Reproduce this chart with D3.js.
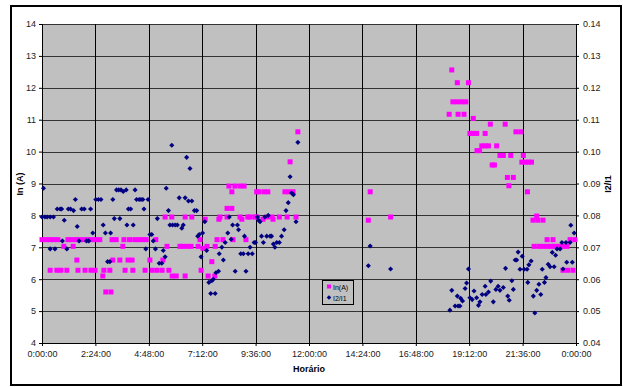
<!DOCTYPE html>
<html>
<head>
<meta charset="utf-8">
<script src="https://cdn.jsdelivr.net/npm/d3@7"></script>
<style>
  body { margin: 0; background: #fff; }
  svg { display: block; font-family: "Liberation Sans", Arial, sans-serif; }
</style>
</head>
<body>
<svg id="chart" width="623" height="387"></svg>
<script>
// minutos desde 0:00
const inTimes = [0,11,22,22,32,40,43,51,59,67,70,81,84,92,94,97,102,113,116,124,132,135,143,146,156,164,167,172,183,186,189,191,200,210,218,221,224,232,236,243,245,250,260,270,278,281,291,297,307,310,324,326,332,337,342,350,351,362,372,380,386,386,391,402,404,421,426,429,434,440,445,448,458,466,467,472,477,480,488,499,499,504,512,512,515,520,534,534,539,545,550,555,561,574,579,580,585,596,599,607,609,620,623,640,655,661,666,669,677,685,690,
  880,885,940,
  1098,1105,1108,1120,1120,1122,1132,1138,1143,1150,1154,1163,1163,1172,1173,1180,1186,1195,1195,1204,1209,1214,1220,1226,1235,1244,1249,1255,1259,1264,1271,1278,1291,1294,1298,1303,1309,1312,1320,1324,1327,1334,1337,1340,1351,1351,1362,1362,1373,1378,1384,1395,1405,1405,1416,1418,1424,1432,1437];
const inValues = [7.24,7.24,7.24,6.28,7.24,6.28,7.24,6.28,7.03,6.28,7.24,7.24,7.03,7.24,6.6,6.28,7.24,7.24,6.28,7.24,6.28,7.24,6.28,7.24,7.24,6.1,6.28,5.6,6.28,5.6,7.24,6.6,7.24,6.6,7.03,7.24,6.28,6.6,7.24,6.6,6.28,7.24,7.24,7.24,6.28,7.24,6.6,6.28,7.24,6.28,6.28,6.6,7.95,7.03,6.28,7.95,6.1,6.1,7.03,7.03,6.1,7.95,7.03,7.03,7.95,7.03,7.24,6.28,6.97,7.88,7.03,6.1,6.55,6.1,7.03,7.24,7.88,7.95,7.24,7.95,8.22,8.92,8.22,8.74,7.24,8.92,8.92,7.95,7.88,8.92,7.24,7.95,7.95,7.95,8.74,7.95,8.74,7.88,8.74,7.95,8.74,7.95,7.88,7.95,8.74,7.95,8.74,9.68,8.74,7.95,10.62,
  7.85,8.74,7.95,
  11.17,12.56,11.56,11.56,12.16,11.17,11.56,11.17,11.56,12.16,10.57,11.04,10.57,10.57,10.03,10.03,10.18,10.18,10.57,10.18,10.86,9.58,9.58,10.18,9.88,9.88,10.86,9.19,8.93,9.88,9.19,10.62,10.62,9.67,9.88,9.67,8.74,9.67,9.67,7.85,7.03,7.98,7.85,7.03,7.85,7.03,7.24,7.03,7.03,7.24,7.03,7.03,7.03,6.28,7.03,6.28,7.24,6.28,7.24];

const ratioTimes = [0,4,8,14,22,22,31,35,41,49,53,55,60,67,71,77,85,90,95,100,107,114,120,126,131,137,145,152,159,165,171,177,183,185,191,195,201,207,210,213,219,227,229,233,239,246,251,255,262,267,272,275,280,286,291,296,300,306,311,316,323,327,332,335,341,345,350,352,359,365,370,377,381,386,390,395,399,404,411,417,420,424,429,433,439,444,450,455,458,462,467,469,476,478,485,489,494,501,505,510,514,521,527,530,536,543,546,550,556,561,567,572,576,581,584,588,592,597,601,606,610,615,619,624,628,633,640,646,653,658,664,669,673,678,685,690,
  880,885,940,
  1100,1105,1114,1120,1122,1127,1129,1134,1141,1145,1150,1154,1160,1165,1172,1177,1181,1187,1195,1197,1204,1210,1217,1224,1230,1235,1244,1250,1256,1260,1267,1271,1276,1280,1284,1289,1295,1300,1308,1310,1313,1319,1325,1329,1334,1340,1345,1349,1355,1359,1365,1370,1376,1381,1385,1389,1397,1402,1405,1413,1415,1424,1426,1430,1435];
const ratioValues = [0.0795,0.0885,0.0795,0.0795,0.0795,0.0695,0.0795,0.0695,0.082,0.082,0.082,0.072,0.0785,0.0695,0.082,0.082,0.0815,0.085,0.0765,0.072,0.082,0.082,0.072,0.072,0.082,0.0745,0.085,0.085,0.085,0.077,0.0745,0.0655,0.0655,0.0745,0.085,0.079,0.088,0.088,0.079,0.088,0.0875,0.088,0.077,0.082,0.082,0.077,0.088,0.085,0.085,0.085,0.085,0.082,0.0695,0.085,0.074,0.074,0.072,0.0695,0.079,0.065,0.065,0.069,0.067,0.0885,0.0815,0.077,0.102,0.077,0.077,0.077,0.0855,0.076,0.077,0.0855,0.0982,0.0845,0.0947,0.0845,0.0815,0.0815,0.0735,0.074,0.067,0.0745,0.078,0.069,0.059,0.0555,0.0595,0.06,0.0555,0.062,0.0625,0.068,0.07,0.066,0.0715,0.0745,0.0795,0.0725,0.077,0.0625,0.077,0.0755,0.068,0.068,0.0735,0.0625,0.068,0.07,0.068,0.0715,0.0715,0.0795,0.0785,0.078,0.0735,0.0715,0.0795,0.0735,0.08,0.0735,0.0735,0.071,0.07,0.0715,0.0715,0.0735,0.0755,0.0815,0.084,0.0921,0.087,0.0865,0.078,0.1029,
  0.0642,0.0704,0.0632,
  0.0503,0.0565,0.0516,0.0547,0.0516,0.0516,0.054,0.0532,0.0571,0.0588,0.0632,0.0542,0.0536,0.0563,0.0542,0.0518,0.0529,0.0552,0.0578,0.0552,0.056,0.0594,0.0529,0.0568,0.0578,0.0565,0.0574,0.0634,0.0547,0.0534,0.0595,0.0568,0.066,0.066,0.0685,0.0631,0.0672,0.0631,0.0631,0.059,0.0645,0.0657,0.0547,0.0494,0.0565,0.0584,0.0552,0.0631,0.059,0.0605,0.0647,0.0639,0.0684,0.0639,0.0675,0.0695,0.0695,0.0715,0.0632,0.0715,0.0653,0.0715,0.0769,0.0653,0.0745];

const xTicks = [0,144,288,432,576,720,864,1008,1152,1296,1440];
const xTickLabels = ["0:00:00","2:24:00","4:48:00","7:12:00","9:36:00","12:00:00","14:24:00","16:48:00","19:12:00","21:36:00","0:00:00"];
const leftTicks = [4,5,6,7,8,9,10,11,12,13,14];
const rightTicks = [0.04,0.05,0.06,0.07,0.08,0.09,0.10,0.11,0.12,0.13,0.14];

const svg = d3.select("#chart");
const pLeft = 42, pRight = 576, pTop = 24, pBottom = 343;

// moldura externa
svg.append("rect")
  .attr("x", 11).attr("y", 6).attr("width", 610).attr("height", 379)
  .attr("fill", "#fff").attr("stroke", "#000").attr("stroke-width", 2);

const x = d3.scaleLinear().domain([0, 1440]).range([pLeft, pRight]);
const yL = d3.scaleLinear().domain([4, 14]).range([pBottom, pTop]);
const yR = d3.scaleLinear().domain([0.04, 0.14]).range([pBottom, pTop]);

// área do gráfico
svg.append("rect")
  .attr("x", pLeft).attr("y", pTop).attr("width", pRight - pLeft).attr("height", pBottom - pTop)
  .attr("fill", "#c0c0c0");

// grade
svg.append("g").selectAll("line").data(leftTicks).enter().append("line")
  .attr("x1", pLeft).attr("x2", pRight)
  .attr("y1", d => Math.round(yL(d)) + 0.5).attr("y2", d => Math.round(yL(d)) + 0.5)
  .attr("stroke", "#333").attr("stroke-width", 1.2);
svg.append("g").selectAll("line").data(xTicks).enter().append("line")
  .attr("x1", d => Math.round(x(d)) + 0.5).attr("x2", d => Math.round(x(d)) + 0.5)
  .attr("y1", pTop).attr("y2", pBottom)
  .attr("stroke", "#000").attr("stroke-width", 1);

// eixos
const axL = svg.append("g").attr("transform", `translate(${pLeft},0)`)
  .call(d3.axisLeft(yL).tickValues(leftTicks).tickSize(3).tickPadding(3).tickFormat(d3.format("d")));
const axR = svg.append("g").attr("transform", `translate(${pRight},0)`)
  .call(d3.axisRight(yR).tickValues(rightTicks).tickSize(3).tickPadding(4).tickFormat(d3.format(".2f")));
const axB = svg.append("g").attr("transform", `translate(0,${pBottom})`)
  .call(d3.axisBottom(x).tickValues(xTicks).tickSize(3).tickPadding(5).tickFormat((d, i) => xTickLabels[i]));
[axL, axR, axB].forEach(a => {
  a.select(".domain").attr("stroke", "#000");
  a.selectAll(".tick line").attr("stroke", "#000");
  a.selectAll("text").attr("font-size", 9).attr("fill", "#222")
    .attr("font-family", "'Liberation Sans', Arial, sans-serif");
});

// séries
svg.append("g").selectAll("rect").data(inTimes).enter().append("rect")
  .attr("x", (d, i) => x(d) - 2.5).attr("y", (d, i) => yL(inValues[i]) - 2.5)
  .attr("width", 5).attr("height", 5).attr("fill", "#ff00ff");

// losango: quadrado girado 45°
const diamond = d3.symbol().type(d3.symbolSquare).size(13);
svg.append("g").selectAll("path").data(ratioTimes).enter().append("path")
  .attr("d", diamond)
  .attr("transform", (d, i) => `translate(${x(d)},${yR(ratioValues[i])}) rotate(45)`)
  .attr("fill", "#000080");

// títulos dos eixos
svg.append("text").attr("transform", "translate(23,184) rotate(-90)")
  .attr("text-anchor", "middle").attr("font-size", 9).attr("font-weight", "bold").text("In (A)");
svg.append("text").attr("transform", "translate(611,184) rotate(-90)")
  .attr("text-anchor", "middle").attr("font-size", 9).attr("font-weight", "bold").text("I2/I1");
svg.append("text").attr("x", 309).attr("y", 372)
  .attr("text-anchor", "middle").attr("font-size", 9).attr("font-weight", "bold").text("Horário");

// legenda
const lg = svg.append("g").attr("transform", "translate(322,280)");
lg.append("rect").attr("x", 0.5).attr("y", 0.5).attr("width", 31).attr("height", 24)
  .attr("fill", "#c0c0c0").attr("stroke", "#000");
lg.append("rect").attr("x", 5).attr("y", 4.5).attr("width", 4).attr("height", 4).attr("fill", "#ff00ff");
lg.append("text").attr("x", 11).attr("y", 10).attr("font-size", 7).text("In(A)");
lg.append("path").attr("d", d3.symbol().type(d3.symbolSquare).size(11))
  .attr("transform", "translate(7,17.5) rotate(45)").attr("fill", "#000080");
lg.append("text").attr("x", 11).attr("y", 20.5).attr("font-size", 7).text("I2/I1");
</script>
</body>
</html>
